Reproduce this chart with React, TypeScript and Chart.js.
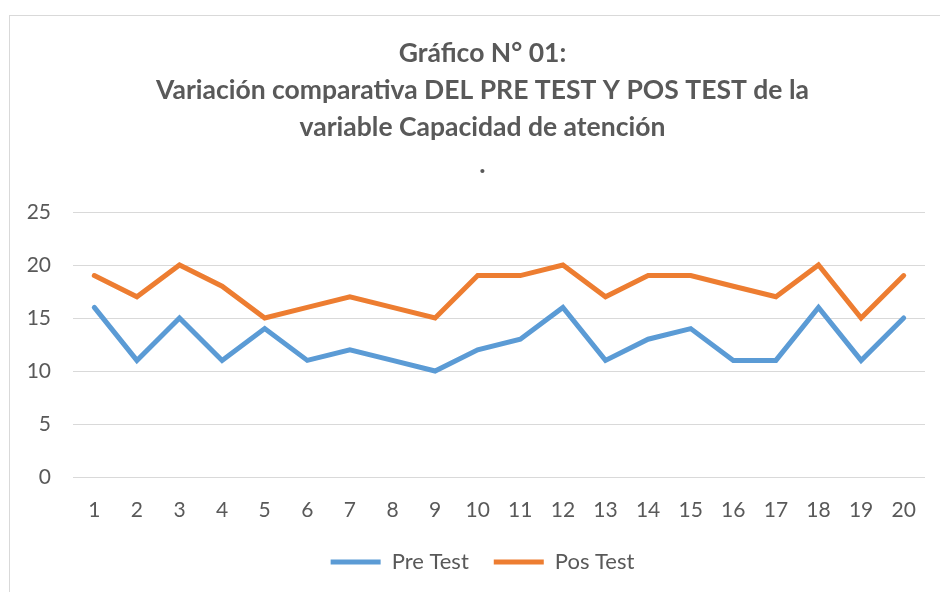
import React, { useEffect, useRef } from "react";
import { Chart, registerables } from "chart.js";

Chart.register(...registerables);

const categories = ["1", "2", "3", "4", "5", "6", "7", "8", "9", "10", "11", "12", "13", "14", "15", "16", "17", "18", "19", "20"];
const preTest = [16, 11, 15, 11, 14, 11, 12, 11, 10, 12, 13, 16, 11, 13, 14, 11, 11, 16, 11, 15];
const posTest = [19, 17, 20, 18, 15, 16, 17, 16, 15, 19, 19, 20, 17, 19, 19, 18, 17, 20, 15, 19];
const seriesNames = ["Pre Test", "Pos Test"];
const titleLines = [
  "Gráfico N° 01:",
  "Variación comparativa DEL PRE TEST Y POS TEST de la",
  "variable Capacidad de atención",
  ".",
];
const yMin = 0;
const yMax = 25;
const yStep = 5;

const TEXT = "#595959";
const FONT = "Lato, 'Open Sans', sans-serif";

// The title and legend are centred on the whole chart frame (which runs past the
// right edge of the page), not on the plot area.
const centreOnFrame = {
  id: "centreOnFrame",
  afterLayout(chart: any) {
    const w = chart.width;
    if (chart.titleBlock) chart.titleBlock.right = w;
    if (chart.legend) chart.legend.right = w;
  },
};

export default function App() {
  const ref = useRef<HTMLCanvasElement | null>(null);

  useEffect(() => {
    if (!ref.current) return;
    const chart = new Chart(ref.current, {
      type: "line",
      data: {
        labels: categories,
        datasets: [
          {
            label: seriesNames[0],
            data: preTest,
            borderColor: "#5B9BD5",
            backgroundColor: "#5B9BD5",
            borderWidth: 5,
            borderCapStyle: "round",
            pointRadius: 0,
            tension: 0,
          },
          {
            label: seriesNames[1],
            data: posTest,
            borderColor: "#ED7D31",
            backgroundColor: "#ED7D31",
            borderWidth: 5,
            borderCapStyle: "round",
            pointRadius: 0,
            tension: 0,
          },
        ],
      },
      options: {
        responsive: false,
        animation: false,
        layout: { padding: { left: 0, right: 40, top: 0, bottom: 17 } },
        plugins: {
          title: {
            display: true,
            text: titleLines,
            color: TEXT,
            font: { family: FONT, size: 26.5, weight: "bold", lineHeight: 37 / 26.5 },
            padding: { top: 34.5, bottom: 29.5 },
          },
          legend: {
            display: true,
            position: "bottom",
            labels: {
              usePointStyle: true,
              pointStyle: "line",
              pointStyleWidth: 50,
              color: TEXT,
              font: { family: FONT, size: 22 },
              padding: 25,
            },
          },
          tooltip: { enabled: false },
        },
        scales: {
          x: {
            offset: true,
            grid: { display: false, drawTicks: false },
            border: { display: false },
            ticks: {
              color: TEXT,
              font: { family: FONT, size: 21 },
              padding: 21,
              maxRotation: 0,
              autoSkip: false,
            },
            afterFit: (s: any) => {
              s.height = 49;
            },
          },
          y: {
            min: yMin,
            max: yMax,
            grid: { color: "#d9d9d9", lineWidth: 1, drawTicks: false },
            border: { display: false },
            ticks: {
              stepSize: yStep,
              color: TEXT,
              font: { family: FONT, size: 21 },
              padding: 22,
            },
            afterFit: (s: any) => {
              s.width = 73;
            },
          },
        },
      },
      plugins: [centreOnFrame],
    });
    return () => chart.destroy();
  }, []);

  return (
    <div
      style={{
        position: "fixed",
        left: 0,
        top: 0,
        width: 940,
        height: 592,
        overflow: "hidden",
        background: "#fff",
      }}
    >
      <div
        style={{
          position: "absolute",
          left: 9,
          top: 15,
          width: 1000,
          height: 1000,
          border: "1px solid #d9d9d9",
          boxSizing: "border-box",
        }}
      />
      <canvas
        ref={ref}
        width={965}
        height={600}
        style={{ position: "absolute", left: 0, top: 0, width: 965, height: 600 }}
      />
    </div>
  );
}
